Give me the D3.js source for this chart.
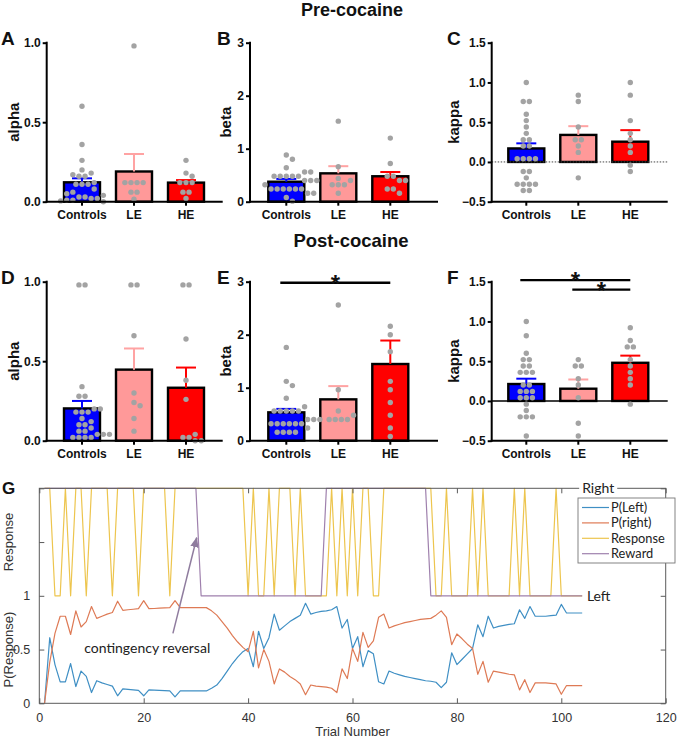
<!DOCTYPE html>
<html>
<head>
<meta charset="utf-8">
<script src="https://cdn.jsdelivr.net/npm/d3@7"></script>
<style>
  body { margin: 0; background: #fff; }
  svg { display: block; }
</style>
</head>
<body>
<div id="chart"></div>
<script>
// ---- data ----
const groups = ["Controls", "LE", "HE"];

const preAlpha = [
  [0.60, 0.36, 0.26, 0.20, 0.18, 0.17, 0.16, 0.16, 0.12, 0.11, 0.11, 0.11, 0.08, 0.06, 0.05, 0.04, 0.03, 0.03, 0.02, 0.02, 0.01, 0.01, 0.005, 0.0],
  [0.98, 0.12, 0.12, 0.12, 0.12, 0.06, 0.06, 0.015],
  [0.26, 0.18, 0.16, 0.12, 0.12, 0.12, 0.06, 0.06, 0.02]
];
const preAlphaMean = [0.122, 0.19, 0.12];
const preAlphaSem = [0.025, 0.11, 0.016];

const preBeta = [
  [0.88, 0.80, 0.64, 0.56, 0.56, 0.48, 0.48, 0.48, 0.48, 0.48, 0.40, 0.40, 0.40, 0.32, 0.24, 0.24, 0.24, 0.24, 0.24, 0.24, 0.16, 0.16, 0.08, 0.01],
  [1.52, 0.66, 0.44, 0.40, 0.32, 0.32, 0.32, 0.16],
  [1.20, 0.72, 0.48, 0.48, 0.40, 0.40, 0.24, 0.24, 0.16]
];
const preBetaMean = [0.377, 0.535, 0.48];
const preBetaSem = [0.053, 0.135, 0.08];

const preKappa = [
  [1.0, 0.76, 0.76, 0.60, 0.52, 0.44, 0.36, 0.28, 0.28, 0.20, 0.20, 0.04, 0.04, 0.04, 0.04, -0.12, -0.12, -0.20, -0.28, -0.28, -0.28, -0.28, -0.36, -0.36],
  [0.84, 0.76, 0.44, 0.28, 0.28, 0.20, 0.12, -0.20],
  [1.0, 0.84, 0.52, 0.36, 0.28, 0.20, 0.12, -0.04, -0.12]
];
const preKappaMean = [0.17, 0.34, 0.255];
const preKappaSem = [0.064, 0.11, 0.145];

const postAlpha = [
  [0.98, 0.98, 0.34, 0.28, 0.28, 0.20, 0.20, 0.18, 0.18, 0.18, 0.14, 0.12, 0.10, 0.10, 0.08, 0.06, 0.06, 0.04, 0.04, 0.04, 0.02, 0.02, 0.02, 0.02],
  [0.98, 0.98, 0.66, 0.30, 0.24, 0.22, 0.14, 0.06],
  [0.98, 0.98, 0.64, 0.38, 0.26, 0.04, 0.02, 0.02, 0.0, 0.0]
];
const postAlphaMean = [0.203, 0.447, 0.333];
const postAlphaSem = [0.047, 0.133, 0.127];

const postBeta = [
  [1.76, 1.12, 1.04, 0.80, 0.64, 0.56, 0.56, 0.56, 0.56, 0.56, 0.40, 0.40, 0.40, 0.32, 0.32, 0.32, 0.32, 0.32, 0.32, 0.24, 0.16, 0.16, 0.16, 0.16],
  [2.56, 0.96, 0.56, 0.48, 0.40, 0.40, 0.40, 0.40],
  [2.16, 2.0, 1.68, 1.12, 0.96, 0.72, 0.48, 0.24, 0.08]
];
const postBetaMean = [0.535, 0.78, 1.447];
const postBetaSem = [0.065, 0.25, 0.443];

const postKappa = [
  [1.0, 0.82, 0.60, 0.52, 0.52, 0.44, 0.44, 0.36, 0.36, 0.36, 0.20, 0.20, 0.12, 0.12, 0.12, 0.04, 0.04, 0.04, -0.04, -0.12, -0.20, -0.20, -0.20, -0.44],
  [0.52, 0.44, 0.44, 0.28, 0.20, 0.04, -0.28, -0.44],
  [0.92, 0.76, 0.68, 0.68, 0.52, 0.44, 0.36, 0.28, 0.20, -0.04]
];
const postKappaMean = [0.213, 0.154, 0.48];
const postKappaSem = [0.067, 0.116, 0.09];

const alphaTicks = [0, 0.5, 1.0];
const betaTicks = [0, 1, 2, 3];
const kappaTicks = [-0.5, 0, 0.5, 1.0, 1.5];

const sigE = [{ a: "Controls", b: "HE", y: 2.98 }];
const sigF = [{ a: "Controls", b: "HE", y: 1.52 }, { a: "LE", b: "HE", y: 1.40 }];

// panel G: one value per trial, trials 1..104
const pLeft = [
  0, 0.61, 0.36, 0.20, 0.20, 0.37, 0.156, 0.30, 0.25, 0.10,
  0.21, 0.19, 0.175, 0.16, 0.07, 0.135, 0.13, 0.125, 0.12, 0.07,
  0.125, 0.122, 0.12, 0.118, 0.115, 0.06, 0.115, 0.115, 0.115, 0.115,
  0.115, 0.115, 0.14, 0.17, 0.23, 0.30, 0.37, 0.43, 0.48, 0.51,
  0.34, 0.67, 0.51, 0.61, 0.83, 0.68, 0.72, 0.76, 0.79, 0.82,
  0.93, 0.83, 0.845, 0.855, 0.86, 0.87, 0.90, 0.70, 0.78, 0.51,
  0.62, 0.34, 0.49, 0.46, 0.20, 0.18, 0.30, 0.28, 0.265, 0.25,
  0.24, 0.23, 0.22, 0.21, 0.205, 0.196, 0.146, 0.196, 0.47, 0.36,
  0.41, 0.46, 0.51, 0.73, 0.62, 0.81, 0.70, 0.715, 0.725, 0.735,
  0.74, 0.87, 0.79, 0.90, 0.81, 0.81, 0.81, 0.815, 0.82, 0.92,
  0.84, 0.84, 0.84, 0.84
];
const pRight = [
  0, 0.38, 0.65, 0.81, 0.81, 0.64, 0.86, 0.71, 0.76, 0.90,
  0.79, 0.81, 0.83, 0.845, 0.95, 0.865, 0.87, 0.875, 0.88, 0.955,
  0.88, 0.882, 0.885, 0.887, 0.89, 0.955, 0.89, 0.89, 0.89, 0.89,
  0.89, 0.89, 0.86, 0.82, 0.76, 0.70, 0.63, 0.57, 0.52, 0.48,
  0.67, 0.33, 0.50, 0.39, 0.18, 0.32, 0.29, 0.25, 0.22, 0.18,
  0.08, 0.17, 0.16, 0.155, 0.15, 0.14, 0.10, 0.32, 0.23, 0.51,
  0.39, 0.66, 0.52, 0.58, 0.80, 0.83, 0.70, 0.72, 0.735, 0.75,
  0.76, 0.77, 0.78, 0.785, 0.79, 0.82, 0.86, 0.80, 0.545, 0.645,
  0.60, 0.55, 0.51, 0.27, 0.39, 0.196, 0.30, 0.29, 0.28, 0.27,
  0.265, 0.125, 0.22, 0.10, 0.19, 0.19, 0.19, 0.185, 0.18, 0.084,
  0.165, 0.165, 0.165, 0.165
];
// 1 = Left, 2 = Right
const response = [
  2, 2, 1, 1, 2, 1, 2, 2, 1, 2,
  2, 2, 2, 1, 2, 2, 2, 2, 1, 2,
  2, 2, 2, 2, 1, 2, 2, 2, 2, 2,
  2, 2, 2, 2, 2, 2, 2, 2, 2, 1,
  2, 1, 1, 2, 1, 2, 2, 2, 1, 2,
  1, 1, 1, 1, 1, 2, 1, 2, 1, 2,
  1, 2, 2, 1, 1, 2, 2, 2, 2, 2,
  2, 2, 2, 2, 2, 1, 1, 2, 1, 1,
  1, 1, 2, 1, 2, 1, 1, 1, 1, 1,
  2, 1, 2, 1, 1, 1, 1, 1, 2, 1,
  1, 1, 1, 1
];
const reward = [
  2, 2, 2, 2, 2, 2, 2, 2, 2, 2,
  2, 2, 2, 2, 2, 2, 2, 2, 2, 2,
  2, 2, 2, 2, 2, 2, 2, 2, 2, 2,
  1, 1, 1, 1, 1, 1, 1, 1, 1, 1,
  1, 1, 1, 1, 1, 1, 1, 1, 1, 1,
  1, 1, 1, 1, 2, 2, 2, 2, 2, 2,
  2, 2, 2, 2, 2, 2, 2, 2, 2, 2,
  2, 2, 2, 2, 1, 1, 1, 1, 1, 1,
  1, 1, 1, 1, 1, 1, 1, 1, 1, 1,
  1, 1, 1, 1, 1, 1, 1, 1, 1, 1,
  1, 1, 1, 1
];
const trialTicks = [0, 20, 40, 60, 80, 100, 120];
const pTicks = [0, 0.5, 1, 1.5, 2];
const pTickLabels = ["0", "0.5", "1", "", ""];
const legendNames = ["P(Left)", "P(right)", "Response", "Reward"];

// ---- layout ----
const width = 685, height = 739;
const barFill = ["#0000ff", "#ff9999", "#ff0000"];
const errColor = ["#0000ff", "#ffa3a3", "#ff0000"];
const dotColor = "#a3a3a3";
const boldFont = "'Liberation Sans', Arial, sans-serif";

const svg = d3.select("#chart").append("svg")
    .attr("width", width)
    .attr("height", height)
    .attr("viewBox", [0, 0, width, height]);
svg.append("rect").attr("width", width).attr("height", height).attr("fill", "#fff");

const cols = [
  { x0: 46.7, x1: 222.7, bar0: 64, letter: 1, ylab: 13.5 },
  { x0: 250, x1: 438, bar0: 268.3, letter: 217, ylab: 226 },
  { x0: 491.7, x1: 667.7, bar0: 508.3, letter: 447, ylab: 453.5 }
];
const rows = [{ top: 42.7, bottom: 201.7 }, { top: 281.7, bottom: 440.7 }];

const panels = [
  { id: "A", col: 0, row: 0, dots: preAlpha, mean: preAlphaMean, sem: preAlphaSem, domain: [0, 1], ticks: alphaTicks, fmt: ".1f", ylabel: "alpha" },
  { id: "B", col: 1, row: 0, dots: preBeta, mean: preBetaMean, sem: preBetaSem, domain: [0, 3], ticks: betaTicks, fmt: "d", ylabel: "beta" },
  { id: "C", col: 2, row: 0, dots: preKappa, mean: preKappaMean, sem: preKappaSem, domain: [-0.5, 1.5], ticks: kappaTicks, fmt: ".1f", ylabel: "kappa", zero: "dotted" },
  { id: "D", col: 0, row: 1, dots: postAlpha, mean: postAlphaMean, sem: postAlphaSem, domain: [0, 1], ticks: alphaTicks, fmt: ".1f", ylabel: "alpha" },
  { id: "E", col: 1, row: 1, dots: postBeta, mean: postBetaMean, sem: postBetaSem, domain: [0, 3], ticks: betaTicks, fmt: "d", ylabel: "beta", sig: sigE },
  { id: "F", col: 2, row: 1, dots: postKappa, mean: postKappaMean, sem: postKappaSem, domain: [-0.5, 1.5], ticks: kappaTicks, fmt: ".1f", ylabel: "kappa", zero: "solid", sig: sigF }
];

// place dots of equal value side by side, then dodge the rest
function swarm(values, y, r) {
  const gap = 2 * r + 0.7;
  const rowsOf = Array.from(d3.group(values, v => v), ([v, list]) => ({ v, n: list.length }))
    .sort((a, b) => b.n - a.n || b.v - a.v);
  const placed = [];
  const shifts = [0];
  for (let k = 1; k <= 14; k++) shifts.push(k * gap / 2, -k * gap / 2);
  for (const row of rowsOf) {
    const yy = y(row.v);
    const base = d3.range(row.n).map(k => (k - (row.n - 1) / 2) * gap);
    for (const s of shifts) {
      const xs = base.map(b => b + s);
      const ok = xs.every(x => placed.every(p => (p.x - x) ** 2 + (p.y - yy) ** 2 >= gap * gap - 0.01));
      if (ok) { xs.forEach(x => placed.push({ x, y: yy, v: row.v })); break; }
    }
  }
  return placed;
}

panels.forEach(p => {
  const c = cols[p.col], rw = rows[p.row];
  const g = svg.append("g");
  const x = d3.scaleBand().domain(groups)
      .range([c.bar0 - 8, c.bar0 + 148])
      .paddingInner(0.3077).paddingOuter(0.1538);
  const y = d3.scaleLinear().domain(p.domain).range([rw.bottom, rw.top]);

  // bars
  g.selectAll("rect.bar").data(groups).join("rect")
      .attr("x", d => x(d))
      .attr("y", (d, i) => y(Math.max(p.mean[i], 0)))
      .attr("width", x.bandwidth())
      .attr("height", (d, i) => Math.abs(y(p.mean[i]) - y(0)))
      .attr("fill", (d, i) => barFill[i])
      .attr("stroke", "#000")
      .attr("stroke-width", 2.4);

  // zero reference line for kappa
  if (p.zero) {
    g.append("line")
        .attr("x1", c.x0).attr("x2", c.x1)
        .attr("y1", y(0)).attr("y2", y(0))
        .attr("stroke", p.zero === "solid" ? "#000" : "#444")
        .attr("stroke-width", p.zero === "solid" ? 1.6 : 1)
        .attr("stroke-dasharray", p.zero === "solid" ? null : "1.5,1.5");
  }

  // error bars (mean + SEM)
  groups.forEach((grp, i) => {
    const cx = x(grp) + x.bandwidth() / 2;
    const top = y(p.mean[i] + p.sem[i]);
    g.append("line").attr("x1", cx).attr("x2", cx)
        .attr("y1", y(p.mean[i])).attr("y2", top)
        .attr("stroke", errColor[i]).attr("stroke-width", 2);
    g.append("line").attr("x1", cx - 10).attr("x2", cx + 10)
        .attr("y1", top).attr("y2", top)
        .attr("stroke", errColor[i]).attr("stroke-width", 2);
  });

  // individual animals
  groups.forEach((grp, i) => {
    const cx = x(grp) + x.bandwidth() / 2;
    g.append("g").attr("fill", dotColor)
      .selectAll("circle").data(swarm(p.dots[i], y, 2.7)).join("circle")
        .attr("cx", d => cx + d.x)
        .attr("cy", d => d.y)
        .attr("r", 2.7);
  });

  // axes
  g.append("g")
      .attr("transform", `translate(${c.x0},0)`)
      .call(d3.axisLeft(y).tickValues(p.ticks).tickFormat(d3.format(p.fmt)).tickSize(4).tickPadding(2))
      .call(a => a.select(".domain").remove())
      .call(a => a.selectAll("line").attr("stroke", "#000").attr("stroke-width", 2))
      .call(a => a.selectAll("text").attr("font-family", boldFont).attr("font-weight", "bold")
          .attr("font-size", 12).attr("fill", "#111"));
  g.append("line").attr("x1", c.x0).attr("x2", c.x0)
      .attr("y1", rw.top - 1).attr("y2", rw.bottom + 1)
      .attr("stroke", "#000").attr("stroke-width", 2);

  g.append("g")
      .attr("transform", `translate(0,${rw.bottom})`)
      .call(d3.axisBottom(x).tickSize(4).tickPadding(5))
      .call(a => a.select(".domain").remove())
      .call(a => a.selectAll("line").attr("stroke", "#000").attr("stroke-width", 2))
      .call(a => a.selectAll("text").attr("font-family", boldFont).attr("font-weight", "bold")
          .attr("font-size", 12).attr("fill", "#111"));
  g.append("line").attr("x1", c.x0 - 1).attr("x2", c.x1)
      .attr("y1", rw.bottom).attr("y2", rw.bottom)
      .attr("stroke", "#000").attr("stroke-width", 2);

  // y label & panel letter
  g.append("text")
      .attr("transform", `translate(${c.ylab},${(rw.top + rw.bottom) / 2}) rotate(-90)`)
      .attr("text-anchor", "middle").attr("dy", "0.35em")
      .attr("font-family", boldFont).attr("font-weight", "bold").attr("font-size", 15)
      .attr("fill", "#111")
      .text(p.ylabel);
  g.append("text")
      .attr("x", c.letter).attr("y", rw.top + 2.5)
      .attr("font-family", boldFont).attr("font-weight", "bold").attr("font-size", 19)
      .attr("fill", "#111")
      .text(p.id);

  // significance bars
  (p.sig || []).forEach(s => {
    const xa = x(s.a) + x.bandwidth() / 2 - 6, xb = x(s.b) + x.bandwidth() / 2;
    g.append("line").attr("x1", xa).attr("x2", xb)
        .attr("y1", y(s.y)).attr("y2", y(s.y))
        .attr("stroke", "#000").attr("stroke-width", 2.4);
    g.append("text")
        .attr("x", (xa + xb) / 2).attr("y", y(s.y) + 9)
        .attr("text-anchor", "middle")
        .attr("font-family", boldFont).attr("font-weight", "bold").attr("font-size", 24)
        .attr("fill", "#111")
        .text("*");
  });
});

// titles
svg.append("text").attr("x", 352).attr("y", 16).attr("text-anchor", "middle")
    .attr("font-family", boldFont).attr("font-weight", "bold").attr("font-size", 18)
    .attr("fill", "#111").text("Pre-cocaine");
svg.append("text").attr("x", 351).attr("y", 247).attr("text-anchor", "middle")
    .attr("font-family", boldFont).attr("font-weight", "bold").attr("font-size", 18.5)
    .attr("fill", "#111").text("Post-cocaine");

// ---- panel G ----
const gx = d3.scaleLinear().domain([0, 120]).range([39.3, 665.7]);
const gy = d3.scaleLinear().domain([0, 2]).range([703.3, 488.3]);
const trials = d3.range(1, pLeft.length + 1);
const lineColors = ["#3f8fc4", "#de7a55", "#edc54e", "#9f80ad"];
const seriesG = [pLeft, pRight, response, reward];
const gFont = "'Liberation Sans', Arial, sans-serif";
const noteFont = "Lato, 'Open Sans', sans-serif";
const axisGray = "#5a5a5a";

const G = svg.append("g");
const line = d3.line().x((d, i) => gx(trials[i])).y(d => gy(d));

seriesG.forEach((s, k) => {
  G.append("path").datum(s)
      .attr("fill", "none")
      .attr("stroke", lineColors[k])
      .attr("stroke-width", 1.2)
      .attr("stroke-linejoin", "round")
      .attr("d", line);
});

// box and inward ticks on all sides
G.append("rect")
    .attr("x", gx(0)).attr("y", gy(2))
    .attr("width", gx(120) - gx(0)).attr("height", gy(0) - gy(2))
    .attr("fill", "none").attr("stroke", axisGray).attr("stroke-width", 1);

const styleAxis = a => {
  a.select(".domain").remove();
  a.selectAll("line").attr("stroke", axisGray);
  a.selectAll("text").attr("font-family", gFont).attr("font-size", 12.5).attr("fill", "#333");
};
G.append("g").attr("transform", `translate(0,${gy(0)})`)
    .call(d3.axisBottom(gx).tickValues(trialTicks).tickSize(-5).tickPadding(10))
    .call(styleAxis);
G.append("g").attr("transform", `translate(0,${gy(2)})`)
    .call(d3.axisTop(gx).tickValues(trialTicks).tickSize(-5).tickFormat(""))
    .call(styleAxis);
G.append("g").attr("transform", `translate(${gx(0)},0)`)
    .call(d3.axisLeft(gy).tickValues(pTicks).tickSize(-5).tickPadding(9)
        .tickFormat((d, i) => pTickLabels[i]))
    .call(styleAxis);
G.append("g").attr("transform", `translate(${gx(120)},0)`)
    .call(d3.axisRight(gy).tickValues(pTicks).tickSize(-5).tickFormat(""))
    .call(styleAxis);

// axis titles
G.append("text").attr("x", gx(60)).attr("y", 736)
    .attr("text-anchor", "middle").attr("font-family", gFont).attr("font-size", 13)
    .attr("fill", "#333").text("Trial Number");
G.append("text").attr("transform", `translate(8,${gy(1.5)}) rotate(-90)`)
    .attr("text-anchor", "middle").attr("dy", "0.35em")
    .attr("font-family", gFont).attr("font-size", 13).attr("fill", "#333").text("Response");
G.append("text").attr("transform", `translate(8,${gy(0.5)}) rotate(-90)`)
    .attr("text-anchor", "middle").attr("dy", "0.35em")
    .attr("font-family", gFont).attr("font-size", 13).attr("fill", "#333").text("P(Response)");

// Right / Left tags with white backing
[["Right", 104, 2], ["Left", 104.9, 1]].forEach(([txt, tx, ty]) => {
  const t = G.append("text").attr("x", gx(tx)).attr("y", gy(ty)).attr("dy", "0.35em")
      .attr("font-family", noteFont).attr("font-size", 14).attr("fill", "#222").text(txt);
  const bb = t.node().getBBox();
  G.insert("rect", () => t.node())
      .attr("x", bb.x - 3).attr("y", bb.y).attr("width", bb.width + 6).attr("height", bb.height)
      .attr("fill", "#fff");
});

// contingency reversal note
G.append("defs").append("marker")
    .attr("id", "arrow").attr("viewBox", "0 0 10 10")
    .attr("refX", 9).attr("refY", 5)
    .attr("markerWidth", 7).attr("markerHeight", 7)
    .attr("orient", "auto-start-reverse")
  .append("path").attr("d", "M0,1 L10,5 L0,9 z").attr("fill", "#8f7c9e");
G.append("line")
    .attr("x1", gx(25.6)).attr("y1", gy(0.65))
    .attr("x2", gx(30.15)).attr("y2", gy(1.54))
    .attr("stroke", "#8f7c9e").attr("stroke-width", 1.5)
    .attr("marker-end", "url(#arrow)");
G.append("text").attr("x", gx(8.6)).attr("y", gy(0.47))
    .attr("font-family", noteFont).attr("font-size", 14).attr("fill", "#222")
    .text("contingency reversal");

// legend
const lg = G.append("g").attr("transform", "translate(578,498)");
lg.append("rect").attr("width", 97).attr("height", 65)
    .attr("fill", "#fff").attr("stroke", "#777").attr("stroke-width", 0.9);
legendNames.forEach((name, k) => {
  const yy = 9.5 + k * 15.4;
  lg.append("line").attr("x1", 4).attr("x2", 31).attr("y1", yy).attr("y2", yy)
      .attr("stroke", lineColors[k]).attr("stroke-width", 1.2);
  lg.append("text").attr("x", 33).attr("y", yy).attr("dy", "0.35em")
      .attr("font-family", noteFont).attr("font-size", 12.8).attr("fill", "#222").text(name);
});

svg.append("text").attr("x", 2).attr("y", 494)
    .attr("font-family", boldFont).attr("font-weight", "bold").attr("font-size", 17)
    .attr("fill", "#111").text("G");
</script>
</body>
</html>
